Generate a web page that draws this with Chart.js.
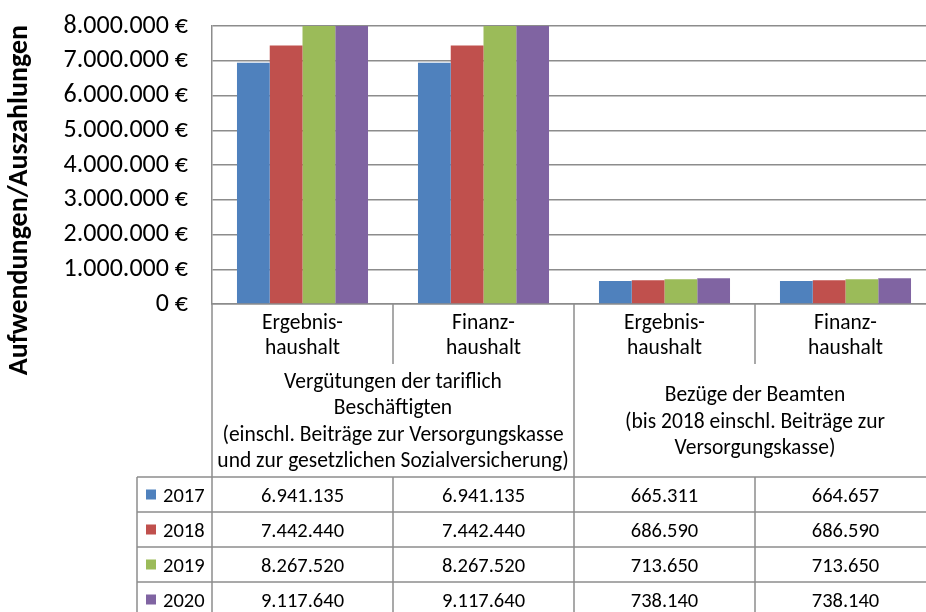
<!DOCTYPE html>
<html><head><meta charset="utf-8">
<script src="https://cdn.jsdelivr.net/npm/chart.js@4"></script>
<style>
html,body{margin:0;padding:0;overflow:hidden;background:#fff;width:926px;height:612px}
#wrap{position:relative;width:940px;height:620px}
</style>
</head><body><div id="wrap"><canvas id="c" width="940" height="620"></canvas></div>
<script>
// ---- data ----
const subLabels = [["Ergebnis-","haushalt"],["Finanz-","haushalt"],["Ergebnis-","haushalt"],["Finanz-","haushalt"]];
const groupLabels = [
  ["Vergütungen der tariflich","Beschäftigten","(einschl. Beiträge zur Versorgungskasse","und zur gesetzlichen Sozialversicherung)"],
  ["Bezüge der Beamten","(bis 2018 einschl. Beiträge zur","Versorgungskasse)"]
];
const groupSizes = [2, 2];
const years = ["2017", "2018", "2019", "2020"];
const values2017 = [6941135, 6941135, 665311, 664657];
const values2018 = [7442440, 7442440, 686590, 686590];
const values2019 = [8267520, 8267520, 713650, 713650];
const values2020 = [9117640, 9117640, 738140, 738140];
const seriesValues = [values2017, values2018, values2019, values2020];
const yMin = 0, yMax = 8000000, yStep = 1000000;
const yTitle = "Aufwendungen/Auszahlungen";
const colors = ["#4F81BD", "#C0504D", "#9BBB59", "#8064A2"];

// ---- helpers ----
const FONT = 'Carlito, Lato, sans-serif';
const LINE = '#8c8c8c';
function fmt(v){ return String(Math.round(v)).replace(/\B(?=(\d{3})+(?!\d))/g, '.'); }

const tablePlugin = {
  id: 'tbl',
  afterDraw(chart){
    const ctx = chart.ctx, xs = chart.scales.x, area = chart.chartArea;
    const n = subLabels.length;
    const edge = i => xs.getPixelForValue(i - 0.5);
    const center = i => xs.getPixelForValue(i);
    const y0 = area.bottom;
    const subBottom = y0 + 60;
    const tableTop = y0 + 173;
    const rowH = 35;
    const legendLeft = area.left - 75;
    const bottom = chart.height;
    ctx.save();
    ctx.strokeStyle = LINE; ctx.lineWidth = 1.5;
    const line = (x1,y1,x2,y2) => { ctx.beginPath(); ctx.moveTo(x1,y1); ctx.lineTo(x2,y2); ctx.stroke(); };
    const gEdges = [0]; let acc = 0;
    groupSizes.forEach(s => { acc += s; gEdges.push(acc); });
    for (let i = 0; i <= n; i++) {
      const x = edge(i);
      if (gEdges.includes(i)) line(x, y0, x, bottom);
      else { line(x, y0, x, subBottom); line(x, tableTop, x, bottom); }
    }
    line(legendLeft, tableTop, legendLeft, bottom);
    for (let r = 0; r <= years.length; r++) {
      const y = tableTop + r * rowH;
      line(legendLeft, y, edge(n), y);
    }
    ctx.fillStyle = '#000';
    ctx.textAlign = 'center'; ctx.textBaseline = 'alphabetic';
    ctx.font = '21.5px ' + FONT;
    subLabels.forEach((ls, i) => ls.forEach((t, k) => ctx.fillText(t, center(i), y0 + 25 + k * 25)));
    const lh = 26.3, mid = (subBottom + tableTop) / 2;
    let start = 0;
    groupLabels.forEach((ls, g) => {
      const cx = (edge(start) + edge(start + groupSizes[g])) / 2;
      const first = mid - (ls.length - 1) / 2 * lh + 7;
      ls.forEach((t, k) => ctx.fillText(t, cx, first + k * lh));
      start += groupSizes[g];
    });
    // table
    ctx.font = '20.5px ' + FONT;
    years.forEach((yr, r) => {
      const cy = tableTop + r * rowH + rowH / 2;
      ctx.fillStyle = colors[r];
      ctx.fillRect(legendLeft + 9, cy - 5, 10, 10);
      ctx.fillStyle = '#000';
      ctx.textAlign = 'left';
      ctx.fillText(yr, legendLeft + 26, cy + 7.5);
      ctx.textAlign = 'center';
      seriesValues[r].forEach((v, i) => ctx.fillText(fmt(v), center(i), cy + 7.5));
    });
    // y title
    ctx.translate(20, 200);
    ctx.rotate(-Math.PI / 2);
    ctx.font = 'bold 28px ' + FONT;
    ctx.textAlign = 'center'; ctx.textBaseline = 'middle';
    ctx.fillText(yTitle, 0, 0);
    ctx.restore();
  }
};

new Chart(document.getElementById('c'), {
  type: 'bar',
  data: {
    labels: subLabels.map(l => l.join('')),
    datasets: years.map((y, i) => ({ label: y, data: seriesValues[i], backgroundColor: colors[i], borderWidth: 0 }))
  },
  options: {
    responsive: false, animation: false, devicePixelRatio: 1,
    layout: { padding: { top: 26, right: 4, left: 0, bottom: 0 } },
    plugins: { legend: { display: false }, tooltip: { enabled: false } },
    datasets: { bar: { categoryPercentage: 0.724, barPercentage: 1 } },
    scales: {
      x: {
        grid: { display: false },
        border: { display: true, color: LINE, width: 1.5 },
        ticks: { display: false },
        afterFit(s) { s.height = 316; }
      },
      y: {
        min: yMin, max: yMax,
        ticks: { stepSize: yStep, autoSkip: false, padding: 0, color: '#000', font: { family: FONT, size: 26 }, callback: v => fmt(v) + ' €' },
        grid: { color: LINE, lineWidth: 1.5, drawTicks: true, tickLength: 24, tickColor: 'rgba(0,0,0,0)' },
        border: { color: LINE, width: 1.5 },
        afterFit(s) { s.width = 212; }
      }
    }
  },
  plugins: [tablePlugin]
});
</script>
</body></html>
